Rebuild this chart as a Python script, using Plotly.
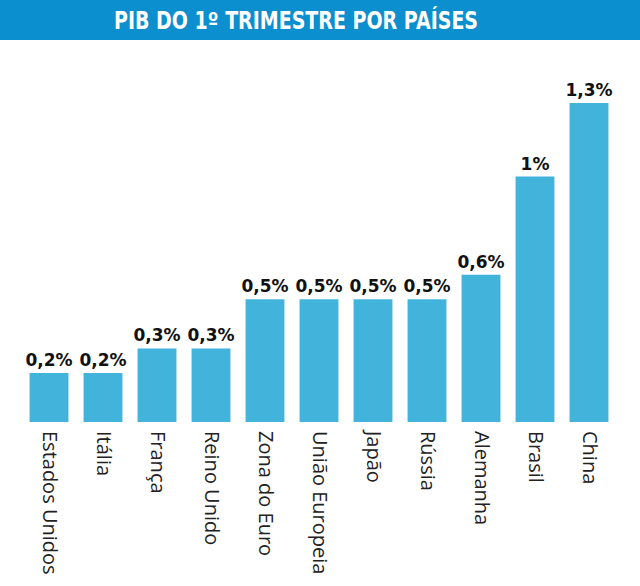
import plotly.graph_objects as go

paises = ["Estados Unidos", "Itália", "França", "Reino Unido", "Zona do Euro",
          "União Europeia", "Japão", "Rússia", "Alemanha", "Brasil", "China"]
pib = [0.2, 0.2, 0.3, 0.3, 0.5, 0.5, 0.5, 0.5, 0.6, 1.0, 1.3]
rotulos = ["0,2%", "0,2%", "0,3%", "0,3%", "0,5%", "0,5%", "0,5%", "0,5%", "0,6%", "1%", "1,3%"]

W, H = 640, 586
ml, mr, mt, mb = 22, 24, 40, 164
ph = H - mt - mb
pw = W - ml - mr

fig = go.Figure(go.Bar(
    x=paises, y=pib, text=rotulos, textposition="outside", constraintext="none",
    marker=dict(color="#42b4dc", line=dict(width=0)),
    textfont=dict(family="DejaVu Sans", size=17, color="#111111", weight="bold"),
    cliponaxis=False, hoverinfo="skip", textangle=0,
))

fig.add_shape(type="rect", xref="paper", yref="paper",
              x0=-ml / pw, x1=(W - ml) / pw, y0=1, y1=1 + mt / ph,
              fillcolor="#0b8fce", line=dict(width=0), layer="below")
fig.add_annotation(text="PIB DO 1º TRIMESTRE POR PAÍSES",
                   xref="paper", yref="paper",
                   x=(296 - ml) / pw, y=1 + 20 / ph, xanchor="center", yanchor="middle",
                   showarrow=False,
                   font=dict(family="DejaVu Sans", size=24, color="white", weight="bold"))

fig.update_layout(
    width=W, height=H, margin=dict(l=ml, r=mr, t=mt, b=mb),
    paper_bgcolor="white", plot_bgcolor="white",
    bargap=0.28, showlegend=False,
    xaxis=dict(tickangle=90, showgrid=False, showline=False, ticks="",
               tickfont=dict(family="Open Sans", size=20, color="#222222"),
               ticklabelstandoff=8, range=[-0.5, 10.5]),
    yaxis=dict(range=[0, ph / 245.4], visible=False, showgrid=False, zeroline=False),
)

post = """
document.body.style.margin='0';
var gd = document.getElementsByClassName('plotly-graph-div')[0];
function squeeze(){
  var t = document.querySelector('.annotation-text');
  if (t) { t.setAttribute('textLength', '364'); t.setAttribute('lengthAdjust', 'spacingAndGlyphs'); }
}
squeeze();
if (gd && gd.on) { gd.on('plotly_afterplot', squeeze); }
"""

fig.write_html("out.html", config={"displayModeBar": False, "staticPlot": True}, post_script=post)
